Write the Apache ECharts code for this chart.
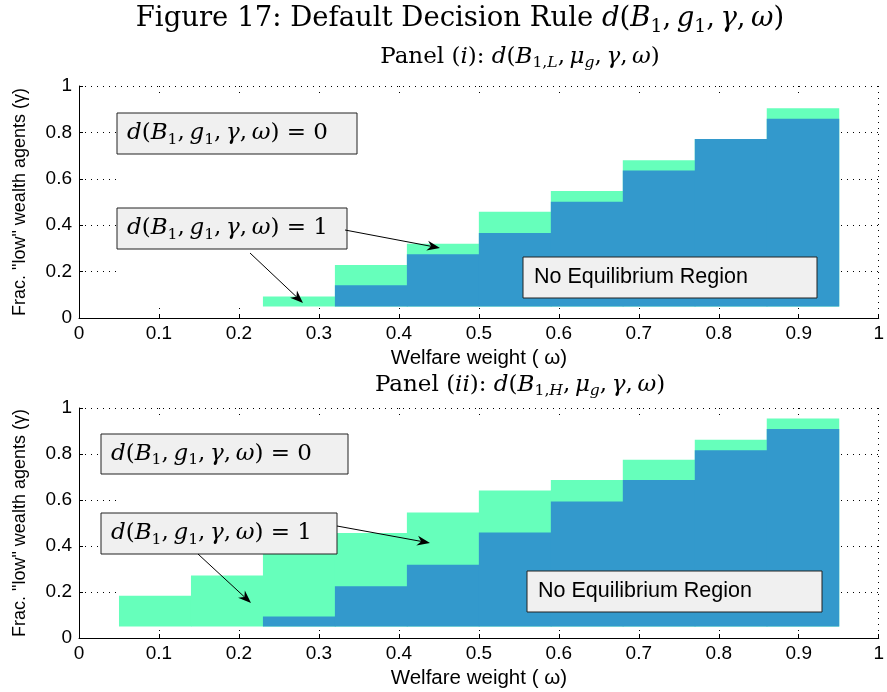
<!DOCTYPE html>
<html>
<head>
<meta charset="utf-8">
<script src="https://cdn.jsdelivr.net/npm/echarts@6/dist/echarts.min.js"></script>
<style>
  html, body { margin: 0; padding: 0; background: #fff; }
  #chart { width: 887px; height: 692px; }
</style>
</head>
<body>
<div id="chart"></div>
<script>
// column edges on the welfare-weight axis
const omegaEdges = [0.05, 0.14, 0.23, 0.32, 0.41, 0.50, 0.59, 0.68, 0.77, 0.86, 0.95];
const gammaFloor = 0.05;
const gammaCeil = 0.97;

// Panel (i): upper edge of default region (d=1) and of no-equilibrium region per column
const panel1DefaultTop = [null, null, 0.093, 0.228, 0.320, 0.458, 0.547, 0.680, 0.772, 0.904];
const panel1NoEqTop    = [null, null, null, 0.141, 0.275, 0.366, 0.501, 0.636, 0.772, 0.859];

// Panel (ii)
const panel2DefaultTop = [0.184, 0.272, 0.365, 0.457, 0.546, 0.641, 0.687, 0.775, 0.862, 0.954];
const panel2NoEqTop    = [null, null, 0.094, 0.225, 0.319, 0.459, 0.594, 0.687, 0.816, 0.909];

const GREEN = '#66ffbb';
const BLUE = '#3399cc';
const SERIF = '"DejaVu Serif", "Liberation Serif", serif';
const SANS = '"Liberation Sans", Arial, sans-serif';

function columns(tops) {
  const out = [];
  tops.forEach((t, i) => {
    if (t != null) out.push([omegaEdges[i], omegaEdges[i + 1], t]);
  });
  return out;
}

function stepRect(color) {
  return function (params, api) {
    const p0 = api.coord([api.value(0), gammaFloor]);
    const p1 = api.coord([api.value(1), api.value(2)]);
    return {
      type: 'rect',
      shape: { x: p0[0], y: p1[1], width: p1[0] - p0[0] + 0.5, height: p0[1] - p1[1] },
      style: { fill: color }
    };
  };
}

function mathRich(size) {
  return {
    rm: { fontFamily: SERIF, fontSize: size, lineHeight: size * 1.25 },
    it: { fontFamily: SERIF, fontStyle: 'italic', fontSize: size, lineHeight: size * 1.25 },
    sub: { fontFamily: SERIF, fontSize: size * 0.68, verticalAlign: 'bottom', lineHeight: size * 0.7 },
    subit: { fontFamily: SERIF, fontStyle: 'italic', fontSize: size * 0.68, verticalAlign: 'bottom', lineHeight: size * 0.7 }
  };
}

const C = '{rm|,\u2009}';
const dRule = '{it|d}{rm|(}{it|B}{sub|1}' + C + '{it|g}{sub|1}' + C + '{it|γ}' + C + '{it|ω}{rm|)}';

function mathText(x, y, text, size, align) {
  return {
    type: 'text', x: x, y: y, z: 100,
    style: { text: text, rich: mathRich(size), align: align || 'center', verticalAlign: 'middle', fill: '#000' }
  };
}

function labelBox(x, y, w, h, text, rich, pad) {
  return {
    type: 'group', x: x, y: y, z: 100,
    children: [
      { type: 'rect', z: 100, shape: { x: 0, y: 0, width: w, height: h },
        style: { fill: '#f0f0f0', stroke: '#222', lineWidth: 1 } },
      { type: 'text', z: 101, x: pad, y: h / 2,
        style: Object.assign({ text: text, verticalAlign: 'middle', align: 'left', fill: '#000' }, rich) }
    ]
  };
}

function arrow(x1, y1, x2, y2) {
  const a = Math.atan2(y2 - y1, x2 - x1);
  const ux = Math.cos(a), uy = Math.sin(a);
  const len = 13, half = 5, back = 9;
  const bx = x2 - ux * len, by = y2 - uy * len;
  return [
    { type: 'line', z: 100, shape: { x1: x1, y1: y1, x2: x2 - ux * back, y2: y2 - uy * back },
      style: { stroke: '#000', lineWidth: 1 } },
    { type: 'polygon', z: 100,
      shape: { points: [[x2, y2], [bx - uy * half, by + ux * half], [x2 - ux * back, y2 - uy * back], [bx + uy * half, by - ux * half]] },
      style: { fill: '#000' } }
  ];
}

function xAxisCfg(gridIndex) {
  return {
    type: 'value', gridIndex: gridIndex, min: 0, max: 1, interval: 0.1,
    name: 'Welfare weight ( ω)', nameLocation: 'middle', nameGap: 30,
    nameTextStyle: { fontFamily: SANS, fontSize: 20.5, color: '#000' },
    axisLine: { onZero: false, lineStyle: { color: '#000', width: 1 } },
    axisTick: { inside: true, length: 4, lineStyle: { color: '#000' } },
    axisLabel: { fontFamily: SANS, fontSize: 19, color: '#000', margin: 6 },
    splitLine: { show: true, lineStyle: { color: '#000', width: 1, type: [1, 5] } }
  };
}

function yAxisCfg(gridIndex) {
  return {
    type: 'value', gridIndex: gridIndex, min: 0, max: 1, interval: 0.2,
    name: 'Frac. "low" wealth agents (γ)', nameLocation: 'middle', nameGap: 50,
    nameTextStyle: { fontFamily: SANS, fontSize: 18, color: '#000' },
    axisLine: { show: true, onZero: false, lineStyle: { color: '#000', width: 1 } },
    axisTick: { show: true, inside: true, length: 4, lineStyle: { color: '#000' } },
    axisLabel: { fontFamily: SANS, fontSize: 19, color: '#000', margin: 7 },
    splitLine: { show: true, lineStyle: { color: '#000', width: 1, type: [1, 5] } }
  };
}

function panelSeries(idx, defTop, noEqTop) {
  const base = { type: 'custom', xAxisIndex: idx, yAxisIndex: idx, silent: true,
    encode: { x: [0, 1], y: 2 }, animation: false };
  return [
    Object.assign({}, base, { renderItem: stepRect('#ffffff'), data: [[omegaEdges[0], omegaEdges[omegaEdges.length - 1], gammaCeil]] }),
    Object.assign({}, base, { renderItem: stepRect(GREEN), data: columns(defTop) }),
    Object.assign({}, base, { renderItem: stepRect(BLUE), data: columns(noEqTop) })
  ];
}

const boxRich = { rich: mathRich(23) };
const neRich = { font: '21.5px ' + SANS };

function panelTitle(roman, sub) {
  return '{rm|Panel (}{it|' + roman + '}{rm|): }{it|d}{rm|(}{it|B}{sub|1,}{subit|' + sub + '}' + C +
    '{it|μ}{subit|g}' + C + '{it|γ}' + C + '{it|ω}{rm|)}';
}

const graphics = [
  mathText(460, 19, '{rm|Figure 17: Default Decision Rule }' + dRule, 27.5),
  mathText(520, 57, panelTitle('i', 'L'), 23),
  mathText(520, 385, panelTitle('ii', 'H'), 23),

  labelBox(117, 113, 240, 41, dRule.replace('{rm|)}', '{rm|) = 0}'), boxRich, 10),
  labelBox(117, 208, 230, 41, dRule.replace('{rm|)}', '{rm|) = 1}'), boxRich, 10),
  labelBox(523, 257, 294, 41, 'No Equilibrium Region', neRich, 11),

  labelBox(101, 434, 247, 40, dRule.replace('{rm|)}', '{rm|) = 0}'), boxRich, 10),
  labelBox(101, 513, 236, 41, dRule.replace('{rm|)}', '{rm|) = 1}'), boxRich, 10),
  labelBox(527, 571, 295, 41, 'No Equilibrium Region', neRich, 11)
].concat(
  arrow(345, 230, 440, 248),
  arrow(250, 253, 303, 303),
  arrow(337, 526, 430, 543),
  arrow(198, 554, 251, 603)
);

const option = {
  backgroundColor: '#fff',
  animation: false,
  grid: [
    { left: 79, right: 5, top: 86, height: 232 },
    { left: 79, right: 5, top: 408, height: 230 }
  ],
  xAxis: [xAxisCfg(0), xAxisCfg(1)],
  yAxis: [yAxisCfg(0), yAxisCfg(1)],
  series: panelSeries(0, panel1DefaultTop, panel1NoEqTop).concat(panelSeries(1, panel2DefaultTop, panel2NoEqTop)),
  graphic: graphics
};

const chart = echarts.init(document.getElementById('chart'), null, { renderer: 'canvas' });
chart.setOption(option);
</script>
</body>
</html>
